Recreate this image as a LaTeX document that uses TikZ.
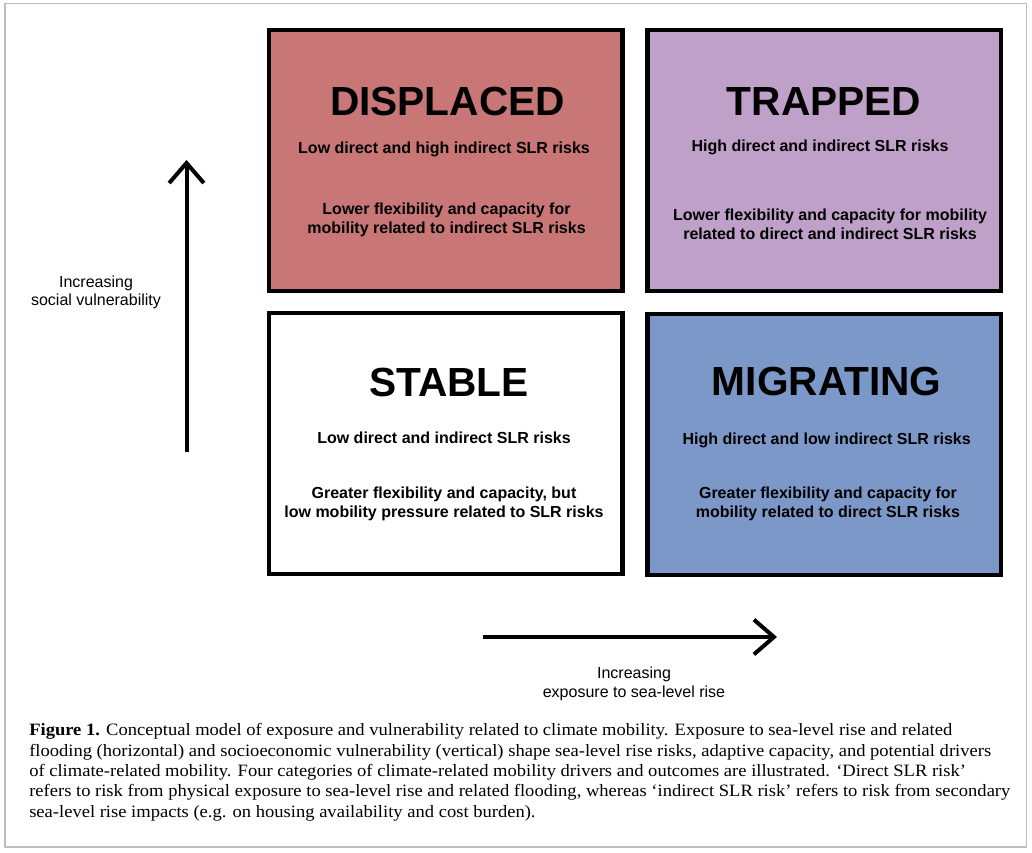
\documentclass[tikz,border=0pt]{standalone}
\usepackage{fontspec}
\setsansfont{Liberation Sans}
\newfontfamily\capfont[FakeStretch=1.07]{Liberation Serif}
\usetikzlibrary{arrows.meta}
\definecolor{displacedred}{RGB}{201,118,118}
\definecolor{trappedlilac}{RGB}{191,160,201}
\definecolor{migratingblue}{RGB}{124,152,200}
\definecolor{framegray}{RGB}{190,190,190}
\tikzset{
  quadbox/.style={rectangle, draw=black, line width=3.4pt, inner sep=0pt,
    minimum width=265.1pt, minimum height=195.75pt},
  quadtitle/.style={font=\sffamily\bfseries\fontsize{30.5}{34}\selectfont, inner sep=0pt},
  quadtext/.style={font=\sffamily\bfseries\fontsize{12}{14.25}\selectfont, align=center, inner sep=0pt},
  axislabel/.style={font=\sffamily\fontsize{12}{14}\selectfont, align=center, inner sep=0pt},
  axisarrow/.style={->, line width=3pt},
}
\begin{document}
\begin{tikzpicture}[x=0.75pt, y=-0.75pt, >={Straight Barb[length=15pt, width=26pt]}]
\useasboundingbox (0,0) rectangle (1032,853);
\draw[framegray, line width=1.1pt] (5,3.5) rectangle (1026.5,847);
% the four quadrants
\node[quadbox, fill=displacedred] (displaced) at (445.75,160.5) {};
\node[quadbox, fill=trappedlilac] (trapped) at (824.25,160.5) {};
\node[quadbox, fill=white] (stable) at (445.75,443.5) {};
\node[quadbox, fill=migratingblue] (migrating) at (824.25,444.5) {};
\node[quadtitle] (displacedT) at (447.5,102) {DISPLACED};
\node[quadtext, anchor=base] (displacedA) at (444,153) {Low direct and high indirect SLR risks};
\node[quadtext] (displacedB) at (446.5,220) {Lower flexibility and capacity for\\mobility related to indirect SLR risks};
\node[quadtitle] (trappedT) at (824,101.5) {TRAPPED};
\node[quadtext, anchor=base] (trappedA) at (820,151) {High direct and indirect SLR risks};
\node[quadtext] (trappedB) at (830,223.8) {Lower flexibility and capacity for mobility\\related to direct and indirect SLR risks};
\node[quadtitle] (stableT) at (449,382) {STABLE};
\node[quadtext, anchor=base] (stableA) at (444,443.3) {Low direct and indirect SLR risks};
\node[quadtext] (stableB) at (444,503.8) {Greater flexibility and capacity, but\\low mobility pressure related to SLR risks};
\node[quadtitle] (migratingT) at (826.7,381.7) {MIGRATING};
\node[quadtext, anchor=base] (migratingA) at (826.7,444) {High direct and low indirect SLR risks};
\node[quadtext] (migratingB) at (828,503.8) {Greater flexibility and capacity for\\mobility related to direct SLR risks};
% axes
\coordinate (vbot) at (186.5,452);
\coordinate (vtop) at (186.5,160);
\draw[axisarrow] (vbot) -- (vtop);
\node[axislabel] (vlabel) at (96,292.5) {Increasing\\social vulnerability};
\coordinate (hleft) at (483,637);
\coordinate (hright) at (777,637);
\draw[axisarrow] (hleft) -- (hright);
\node[axislabel] (hlabel) at (634,684) {Increasing\\exposure to sea-level rise};
% caption
\node[anchor=north west, inner sep=0pt, align=left, font=\capfont\fontsize{13}{15.25}\selectfont] (caption) at (29,723.5)
{\textbf{Figure 1.} Conceptual model of exposure and vulnerability related to climate mobility. Exposure to sea-level rise and related\\
flooding (horizontal) and socioeconomic vulnerability (vertical) shape sea-level rise risks, adaptive capacity, and potential drivers\\
of climate-related mobility. Four categories of climate-related mobility drivers and outcomes are illustrated. ‘Direct SLR risk’\\
refers to risk from physical exposure to sea-level rise and related flooding, whereas ‘indirect SLR risk’ refers to risk from secondary\\
sea-level rise impacts (e.g. on housing availability and cost burden).};
\end{tikzpicture}
\end{document}
